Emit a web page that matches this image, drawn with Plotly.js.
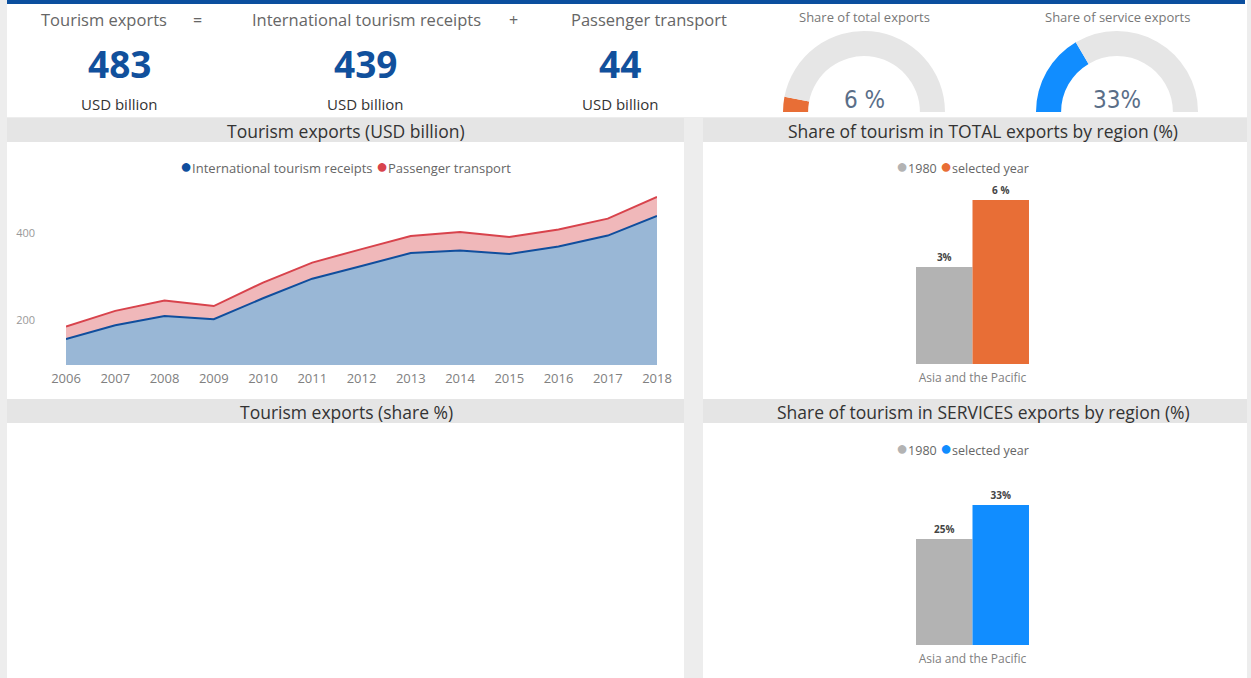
<!DOCTYPE html>
<html>
<head>
<meta charset="utf-8">
<script src="https://cdn.plot.ly/plotly-3.0.1.min.js"></script>
<style>
  html, body { margin: 0; padding: 0; background: #ededed; }
  #dash { width: 1251px; height: 678px; }
</style>
</head>
<body>
<div id="dash"></div>
<script>
"use strict";

// ---- data ----
const years = [2006, 2007, 2008, 2009, 2010, 2011, 2012, 2013, 2014, 2015, 2016, 2017, 2018];
const receipts = [156, 188, 209, 202, 250, 295, 324, 354, 360, 352, 369, 394, 439];
const passenger = [29, 33, 36, 30, 36, 37, 39, 39, 42, 39, 39, 39, 44];

const kpiTitles = ["Tourism exports", "International tourism receipts", "Passenger transport"];
const kpiValues = [483, 439, 44];
const kpiUnit = "USD billion";

const gaugeTitles = ["Share of total exports", "Share of service exports"];
const gaugeValues = [6, 33];
const gaugeLabels = ["6 %", "33%"];

const regions = ["Asia and the Pacific"];
const total1980 = [3.4];
const totalSelected = [5.75];
const totalLabels1980 = ["3%"];
const totalLabelsSelected = ["6 %"];
const services1980 = [25];
const servicesSelected = [33];
const servicesLabels1980 = ["25%"];
const servicesLabelsSelected = ["33%"];

// ---- page geometry helpers (pixels -> paper) ----
const W = 1251, H = 678;
const fx = (px) => px / W;
const fy = (px) => 1 - px / H;

const FONT = "Segoe UI, Open Sans, sans-serif";
const DIN = "Liberation Sans Narrow, DejaVu Sans Condensed, sans-serif";

function rect(x0, y0, x1, y1, color) {
    return {
        type: "rect", xref: "paper", yref: "paper", layer: "below",
        x0: fx(x0), x1: fx(x1), y0: fy(y1), y1: fy(y0),
        fillcolor: color, line: { width: 0 }
    };
}

function label(x, y, text, size, color, extra) {
    return Object.assign({
        xref: "paper", yref: "paper", x: fx(x), y: fy(y),
        xanchor: "center", yanchor: "middle", showarrow: false,
        text: text, font: { family: FONT, size: size, color: color }
    }, extra || {});
}

// ---- traces ----
const traceReceipts = {
    x: years, y: receipts, type: "scatter", mode: "lines",
    stackgroup: "one", name: "International tourism receipts",
    line: { color: "#104e9d", width: 2 },
    fillcolor: "#99b7d6",
    xaxis: "x", yaxis: "y"
};
const tracePassenger = {
    x: years, y: passenger, type: "scatter", mode: "lines",
    stackgroup: "one", name: "Passenger transport",
    line: { color: "#d8434c", width: 2 },
    fillcolor: "#f0b8ba",
    xaxis: "x", yaxis: "y"
};

function barTrace(y, text, color, xa, ya) {
    return {
        x: regions, y: y, type: "bar", text: text, textposition: "outside",
        texttemplate: "<b>%{text}</b>",
        textfont: { family: FONT, size: 10, color: "#444" },
        cliponaxis: false,
        marker: { color: color, line: { width: 0 } },
        xaxis: xa, yaxis: ya
    };
}

// gauges drawn as half donuts: value, remainder, hidden lower half
const gaugeColors = ["#e86e36", "#118dff"];
const gaugeCenters = [864, 1117];
const gaugeTraces = gaugeValues.map((v, i) => ({
    type: "pie",
    values: [v, 100 - v, 100],
    sort: false, direction: "clockwise", rotation: -90,
    hole: 0.69, textinfo: "none", hoverinfo: "skip",
    marker: { colors: [gaugeColors[i], "#e6e6e6", "rgba(0,0,0,0)"], line: { width: 0 } },
    domain: { x: [fx(gaugeCenters[i] - 81), fx(gaugeCenters[i] + 81)], y: [fy(193), fy(31)] }
}));

const data = [
    traceReceipts, tracePassenger,
    barTrace(total1980, totalLabels1980, "#b3b3b3", "x2", "y2"),
    barTrace(totalSelected, totalLabelsSelected, "#e86e36", "x2", "y2"),
    barTrace(services1980, servicesLabels1980, "#b3b3b3", "x3", "y3"),
    barTrace(servicesSelected, servicesLabelsSelected, "#118dff", "x3", "y3"),
].concat(gaugeTraces);

// ---- backgrounds ----
const shapes = [
    rect(7, 0, 1247, 117, "#ffffff"),
    rect(7, 0, 1245, 4, "#0b4f9e"),
    // left column
    rect(7, 118, 684, 142, "#e5e5e5"),
    rect(7, 142, 684, 399, "#ffffff"),
    rect(7, 399, 684, 423, "#e5e5e5"),
    rect(7, 423, 684, 678, "#ffffff"),
    // right column
    rect(703, 118, 1247, 142, "#e5e5e5"),
    rect(703, 142, 1247, 399, "#ffffff"),
    rect(703, 399, 1247, 423, "#e5e5e5"),
    rect(703, 423, 1247, 678, "#ffffff"),
];

// ---- text ----
const kpiTitleX = [104, 366, 649];
const kpiValueX = [119, 365, 620];
let annotations = [];
kpiTitles.forEach((t, i) => {
    annotations.push(label(kpiTitleX[i], 20, t, 16.5, "#666"));
    annotations.push(label(kpiValueX[i], 63, `<b>${kpiValues[i]}</b>`, 37, "#11509c"));
    annotations.push(label(kpiValueX[i], 104, kpiUnit, 15, "#333"));
});
annotations.push(label(197, 20, "=", 16, "#666"));
annotations.push(label(513, 20, "+", 16, "#666"));

gaugeTitles.forEach((t, i) => {
    annotations.push(label(gaugeCenters[i], 17, t, 13, "#777"));
    annotations.push(label(gaugeCenters[i], 100, gaugeLabels[i], 24, "#5a6e88",
        { font: { family: DIN, size: 24, color: "#5a6e88" } }));
});

annotations.push(label(346, 131, "Tourism exports (USD billion)", 17.5, "#333"));
annotations.push(label(983, 131, "Share of tourism in TOTAL exports by region (%)", 17.5, "#333"));
annotations.push(label(346, 412, "Tourism exports (share %)", 17.5, "#333"));
annotations.push(label(983, 412, "Share of tourism in SERVICES exports by region (%)", 17.5, "#333"));

const dot = (c) => `<span style="color:${c};font-size:20px">●</span>`;
annotations.push(label(345, 165,
    `${dot("#104e9d")}International tourism receipts ${dot("#d8434c")}Passenger transport`, 13, "#666"));
annotations.push(label(962, 165, `${dot("#b3b3b3")}1980 ${dot("#e86e36")}selected year`, 12.5, "#666"));
annotations.push(label(962, 447, `${dot("#b3b3b3")}1980 ${dot("#118dff")}selected year`, 12.5, "#666"));

// ---- layout ----
const barDomain = [fx(891.8), fx(1053.2)];
const hiddenY = { visible: false, showgrid: false, zeroline: false, fixedrange: true };

const layout = {
    width: W, height: H,
    margin: { l: 0, r: 0, t: 0, b: 0 },
    paper_bgcolor: "#ededed",
    plot_bgcolor: "rgba(0,0,0,0)",
    showlegend: false,
    hovermode: false,
    font: { family: FONT, color: "#666" },
    barmode: "group", bargap: 0.3, bargroupgap: 0,
    xaxis: {
        domain: [fx(66), fx(657)], range: [2006, 2018],
        tickvals: years, showgrid: false, zeroline: false, showline: false,
        ticks: "", ticklabelstandoff: 4,
        tickfont: { family: FONT, size: 13, color: "#808080" }
    },
    yaxis: {
        domain: [fy(365), fy(185)], range: [96.6, 510.3],
        tickvals: [200, 400], showgrid: false, zeroline: false, showline: false,
        ticks: "", ticklabelstandoff: 30,
        tickfont: { family: FONT, size: 11, color: "#999" }
    },
    xaxis2: {
        domain: barDomain, anchor: "y2", type: "category",
        showgrid: false, zeroline: false, showline: false, ticks: "",
        ticklabelstandoff: 5,
        tickfont: { family: FONT, size: 12, color: "#808080" }
    },
    yaxis2: Object.assign({ domain: [fy(364), fy(185)], range: [0, 6.276], anchor: "x2" }, hiddenY),
    xaxis3: {
        domain: barDomain, anchor: "y3", type: "category",
        showgrid: false, zeroline: false, showline: false, ticks: "",
        ticklabelstandoff: 5,
        tickfont: { family: FONT, size: 12, color: "#808080" }
    },
    yaxis3: Object.assign({ domain: [fy(645), fy(450)], range: [0, 46], anchor: "x3" }, hiddenY),
    shapes: shapes,
    annotations: annotations
};

Plotly.newPlot("dash", data, layout, { staticPlot: true, displayModeBar: false });
</script>
</body>
</html>
